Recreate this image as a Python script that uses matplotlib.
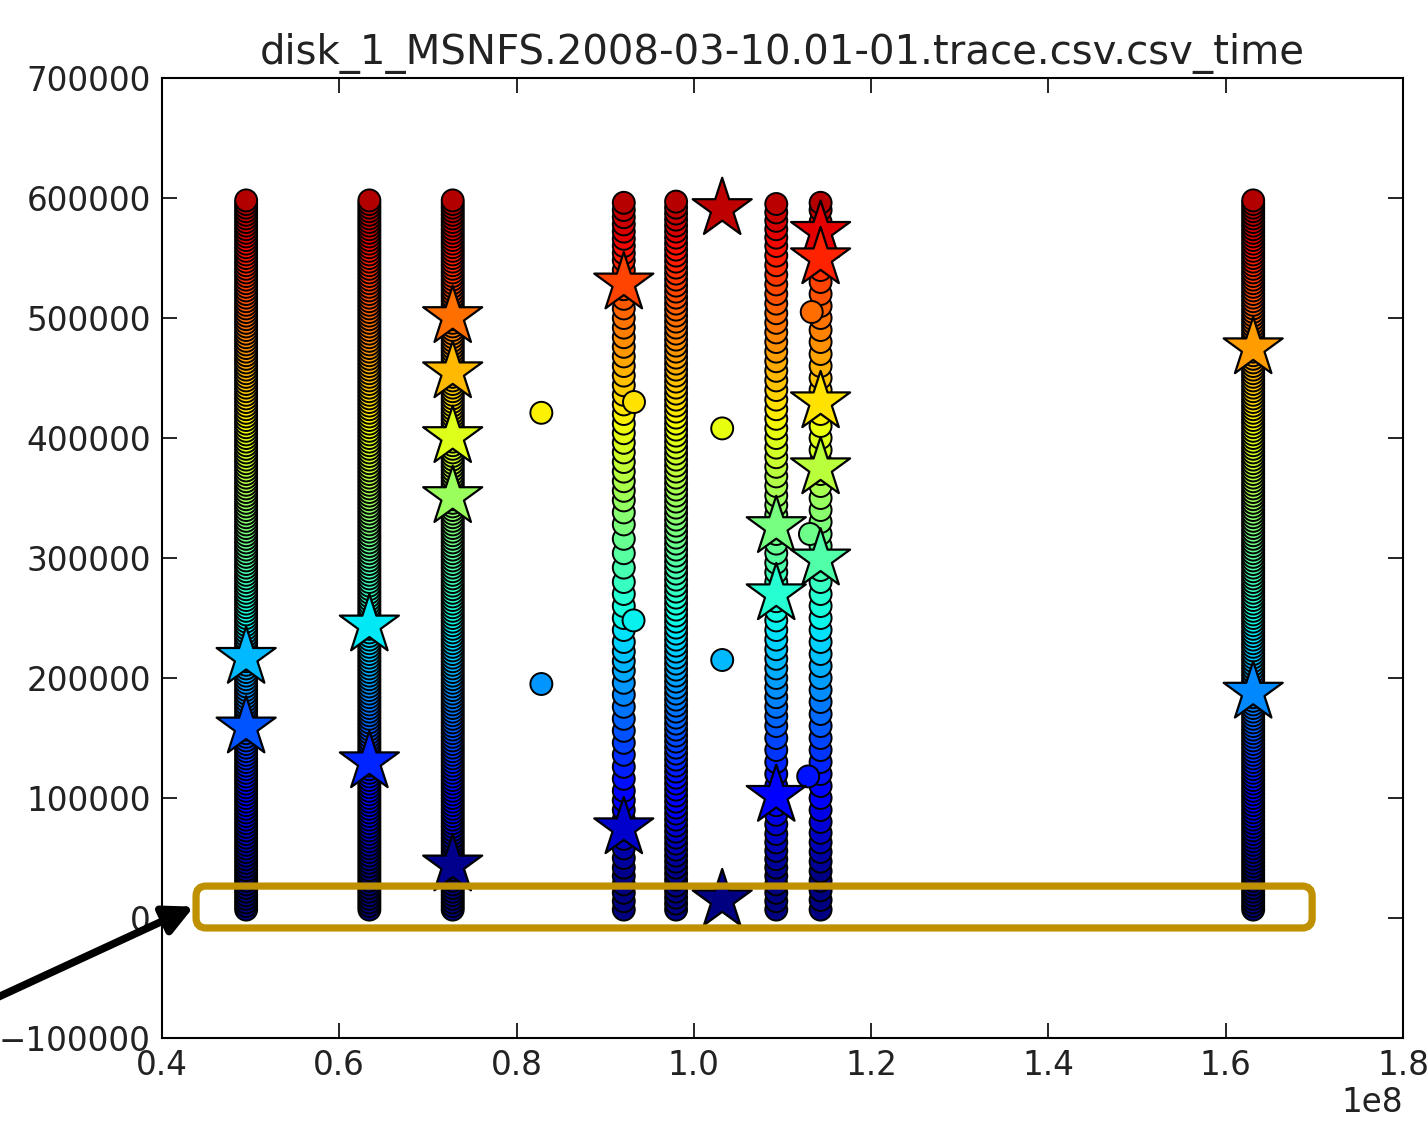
import matplotlib
matplotlib.use("Agg")
import matplotlib.pyplot as plt
from matplotlib.patches import FancyBboxPatch
import numpy as np

# request offsets (in thousands) for each burst column
fine_k = [7, 10, 13, 16, 19, 22, 25, 28, 31, 34, 37, 40, 43, 46, 49, 52, 55, 58, 61, 64,
          67, 70, 73, 76, 79, 82, 85, 88, 91, 94, 97, 100, 103, 106, 109, 112, 115, 118, 121, 124,
          127, 130, 133, 136, 139, 142, 145, 148, 151, 154, 157, 160, 163, 166, 169, 172, 175, 178, 181, 184,
          187, 190, 193, 196, 199, 202, 205, 208, 211, 214, 217, 220, 223, 226, 229, 232, 235, 238, 241, 244,
          247, 250, 253, 256, 259, 262, 265, 268, 271, 274, 277, 280, 283, 286, 289, 292, 295, 298, 301, 304,
          307, 310, 313, 316, 319, 322, 325, 328, 331, 334, 337, 340, 343, 346, 349, 352, 355, 358, 361, 364,
          367, 370, 373, 376, 379, 382, 385, 388, 391, 394, 397, 400, 403, 406, 409, 412, 415, 418, 421, 424,
          427, 430, 433, 436, 439, 442, 445, 448, 451, 454, 457, 460, 463, 466, 469, 472, 475, 478, 481, 484,
          487, 490, 493, 496, 499, 502, 505, 508, 511, 514, 517, 520, 523, 526, 529, 532, 535, 538, 541, 544,
          547, 550, 553, 556, 559, 562, 565, 568, 571, 574, 577, 580, 583, 586, 589, 592, 595, 598]
mid_k = [7, 12, 17, 22, 27, 32, 37, 42, 47, 52, 57, 62, 67, 72, 77, 82, 87, 92, 97,
         102, 107, 112, 117, 122, 127, 132, 137, 142, 147, 152, 157, 162, 167, 172, 177,
         182, 187, 192, 197, 202, 207, 212, 217, 222, 227, 232, 237, 242, 247, 252, 257,
         262, 267, 272, 277, 282, 287, 292, 297, 302, 307, 312, 317, 322, 327, 332, 337,
         342, 347, 352, 357, 362, 367, 372, 377, 382, 387, 392, 397, 402, 407, 412, 417,
         422, 427, 432, 437, 442, 447, 452, 457, 462, 467, 472, 477, 482, 487, 492, 497,
         502, 507, 512, 517, 522, 527, 532, 537, 542, 547, 552, 557, 562, 567, 572, 577,
         582, 587, 592, 597]
col_0921_k = [7, 14, 21, 28, 35, 42, 50, 58, 66, 74, 82, 90, 98, 106, 116, 126, 136, 146,
              156, 166, 176, 186, 196, 206, 214, 222, 230, 240, 250, 260, 270, 280, 292,
              304, 316, 328, 338, 348, 356, 364, 372, 380, 388, 396, 404, 412, 420, 428,
              436, 444, 452, 460, 468, 476, 484, 492, 500, 508, 516, 524, 532, 540, 548,
              554, 560, 566, 572, 578, 584, 590, 596]
col_1093_k = [7, 14, 21, 28, 35, 42, 49, 56, 63, 70, 78, 86, 94, 102, 110, 120, 130, 140,
              150, 160, 168, 176, 184, 192, 200, 208, 216, 224, 232, 240, 248, 256, 264,
              272, 280, 288, 296, 304, 312, 320, 328, 336, 344, 352, 360, 368, 376, 384,
              392, 400, 408, 416, 424, 432, 440, 448, 456, 464, 472, 480, 488, 496, 504,
              512, 520, 528, 536, 544, 552, 560, 567, 574, 581, 588, 595]
col_1143_k = [7, 15, 23, 31, 39, 47, 55, 63, 71, 80, 90, 100, 110, 120, 130, 140, 150, 160,
              170, 180, 190, 200, 210, 220, 230, 240, 250, 260, 270, 280, 290, 300, 310,
              320, 330, 340, 350, 360, 370, 380, 390, 400, 410, 420, 430, 440, 450, 460,
              470, 480, 490, 500, 510, 520, 530, 540, 550, 560, 570, 580, 590, 596]

# column time positions and which offset list they use
col_times = [0.495e8, 0.634e8, 0.728e8, 0.921e8, 0.980e8, 1.093e8, 1.143e8, 1.631e8]
col_offsets = [fine_k, fine_k, fine_k, col_0921_k, mid_k, col_1093_k, col_1143_k, fine_k]

# single requests away from the columns
stray_x = [0.828e8, 0.828e8, 1.032e8, 1.032e8, 0.9325e8, 0.932e8, 1.133e8, 1.131e8, 1.129e8]
stray_y = [421000, 195000, 408000, 215000, 430000, 248000, 505000, 320000, 118000]

# highlighted requests (stars)
star_x = [0.495e8, 0.495e8, 0.634e8, 0.634e8,
          0.728e8, 0.728e8, 0.728e8, 0.728e8, 0.728e8,
          0.921e8, 0.921e8, 1.032e8, 1.032e8,
          1.093e8, 1.093e8, 1.093e8,
          1.143e8, 1.143e8, 1.143e8, 1.143e8, 1.143e8,
          1.631e8, 1.631e8]
star_y = [217000, 159000, 244000, 130000,
          501000, 455000, 401000, 351000, 44000,
          529000, 75000, 591000, 15000,
          326000, 270000, 102000,
          572000, 550000, 430000, 375000, 299000,
          475000, 188000]

plt.rcParams['font.family'] = 'DejaVu Sans'
plt.rcParams['font.size'] = 23.5
plt.rcParams['xtick.direction'] = 'in'
plt.rcParams['ytick.direction'] = 'in'
plt.rcParams['xtick.top'] = True
plt.rcParams['ytick.right'] = True
plt.rcParams['axes.linewidth'] = 1.5

fig = plt.figure(figsize=(14.28, 11.29), dpi=100)
ax = fig.add_axes([0.1134, 0.0806, 0.8691, 0.8503])

cmap = plt.get_cmap('jet')
vmin, vmax = 35000, 625000

for t, offs in zip(col_times, col_offsets):
    ys = np.array(offs) * 1000
    ax.scatter(np.full(len(ys), t), ys, c=ys, cmap=cmap, vmin=vmin, vmax=vmax,
               s=250, edgecolors='black', linewidths=1.4, zorder=2)

ax.scatter(stray_x, stray_y, c=stray_y, cmap=cmap, vmin=vmin, vmax=vmax,
           s=250, edgecolors='black', linewidths=1.4, zorder=2)

ax.scatter(star_x, star_y, c=star_y, cmap=cmap, vmin=vmin, vmax=vmax, marker='*',
           s=2000, edgecolors='black', linewidths=1.6, zorder=3)

ax.set_xlim(0.4e8, 1.8e8)
ax.set_ylim(-100000, 700000)
ax.set_xticks(np.arange(0.4e8, 1.81e8, 0.2e8))
ax.set_yticks(np.arange(-100000, 700001, 100000))
ax.tick_params(length=11, width=1.2, pad=8, colors='black', labelcolor='#222222')
ax.set_title('disk_1_MSNFS.2008-03-10.01-01.trace.csv.csv_time', pad=10,
             color='#222222', fontsize=29)

# highlight box around the low-offset band, in data units
xpx = 1e7 / 88.64
ypx = 1e5 / 120.1
box = FancyBboxPatch((4.385e7, -8300), 1.6975e8 - 4.385e7, 26600 + 8300,
                     boxstyle="round,pad=0,rounding_size=%f" % (10 * xpx),
                     mutation_aspect=ypx / xpx,
                     fill=False, edgecolor='#bf9000', linewidth=5.2,
                     clip_on=False, zorder=4)
ax.add_patch(box)

ax.annotate('', xy=(4.36e7, 9500), xycoords='data',
            xytext=(-0.025, 0.103), textcoords='figure fraction',
            arrowprops=dict(arrowstyle='-|>', color='black', lw=5.5, mutation_scale=44,
                            shrinkA=0, shrinkB=0),
            annotation_clip=False, zorder=5)

fig.savefig('out.png', dpi=100, facecolor='white')
